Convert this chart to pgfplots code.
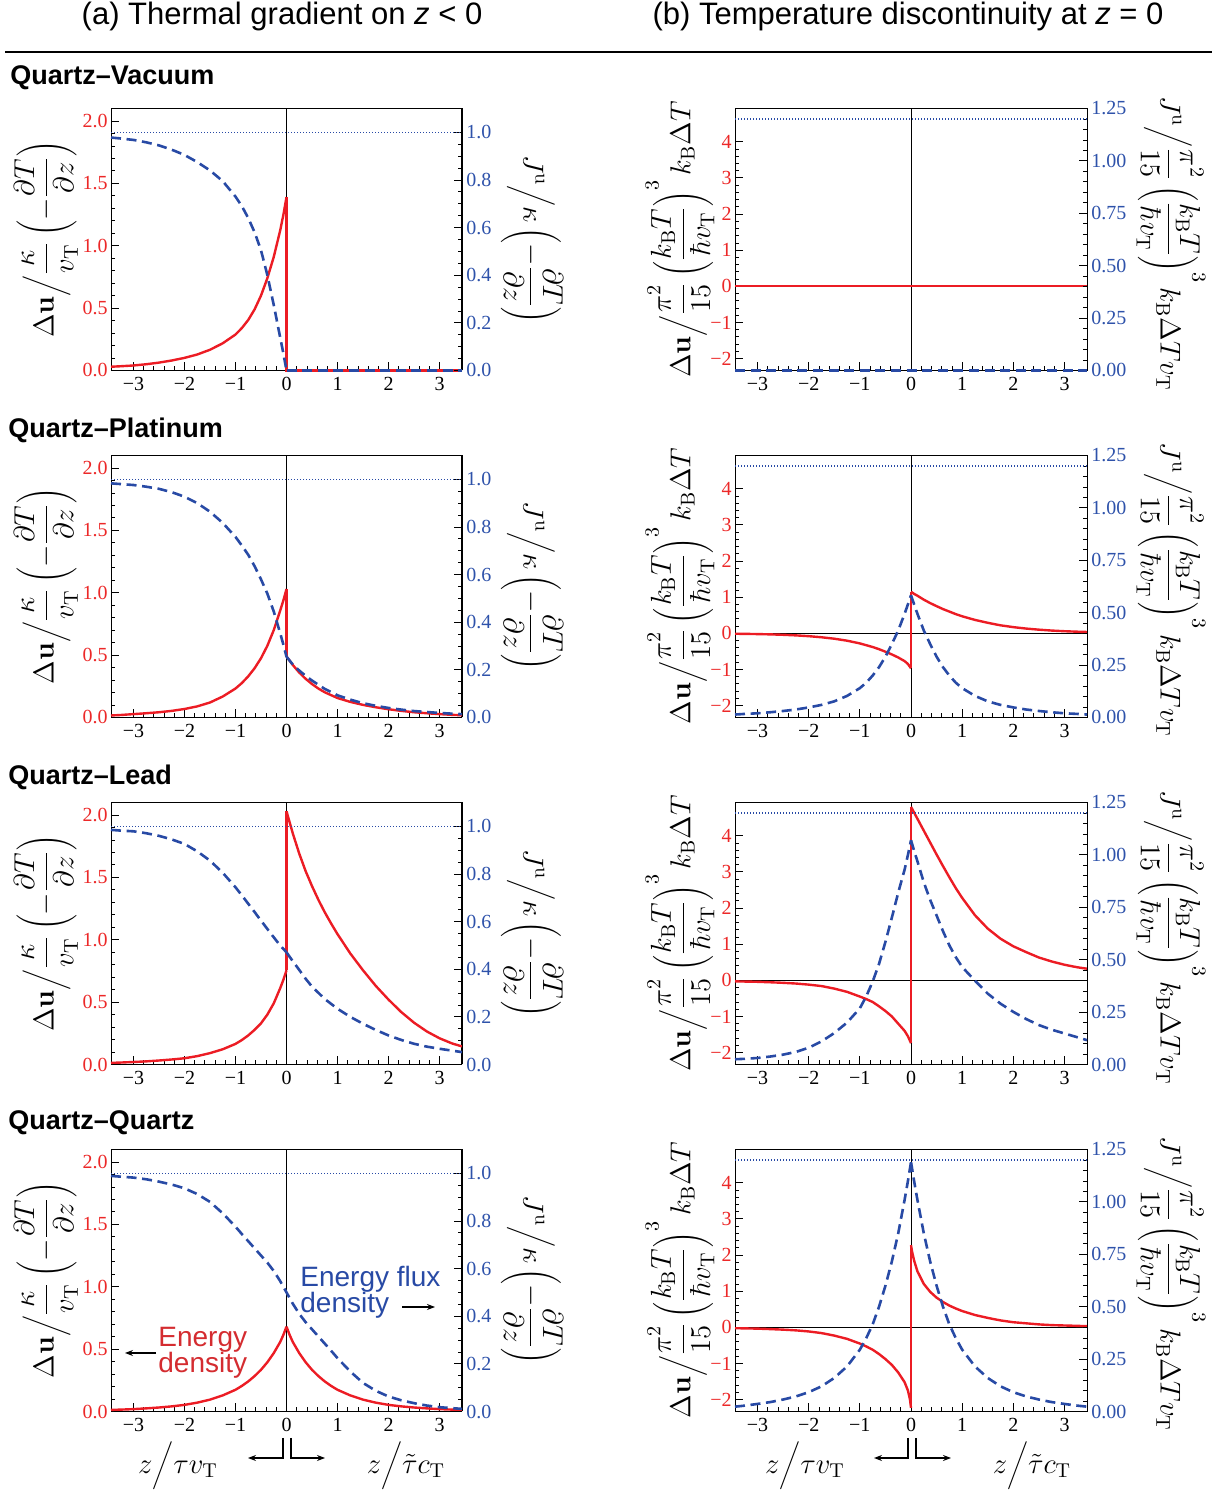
\documentclass[border=0pt]{standalone}
\usepackage[no-math]{fontspec}
\setmainfont{Liberation Serif}
\newfontfamily\hv{Liberation Sans}
\usepackage{pgfplots}
\pgfplotsset{compat=1.18}
\usetikzlibrary{arrows.meta}

\definecolor{cred}{RGB}{236,28,36}
\definecolor{cblue}{RGB}{40,74,165}
\definecolor{tred}{RGB}{236,40,40}
\definecolor{tblue}{RGB}{46,82,170}
\definecolor{ared}{RGB}{212,44,48}

% axis titles
\newcommand{\ulabL}{$\displaystyle \Delta\mathbf{u}\bigg/\frac{\kappa}{v_{\mathrm{T}}}\left(-\frac{\partial T}{\partial z}\right)$}
\newcommand{\jlabL}{$\displaystyle J^{\mathrm{u}}\bigg/\kappa\left(-\frac{\partial T}{\partial z}\right)$}
\newcommand{\ulabR}{$\displaystyle \Delta\mathbf{u}\bigg/\frac{\pi^2}{15}\left(\frac{k_{\mathrm{B}}T}{\hbar v_{\mathrm{T}}}\right)^{3} k_{\mathrm{B}}\Delta T$}
\newcommand{\jlabR}{$\displaystyle J^{\mathrm{u}}\bigg/\frac{\pi^2}{15}\left(\frac{k_{\mathrm{B}}T}{\hbar v_{\mathrm{T}}}\right)^{3} k_{\mathrm{B}}\Delta T v_{\mathrm{T}}$}
\newcommand{\lblfont}{\fontsize{14.4}{17}\selectfont}

\pgfplotsset{
  panel/.style={scale only axis, height=131pt, xmin=-3.44, xmax=3.44,
    anchor=south west, clip=false, tick align=inside,
    major tick length=4pt, minor tick length=2pt,
    every tick/.style={black, line width=0.4pt},
    tick label style={font=\fontsize{10}{12}\selectfont},
    axis line style={black, line width=0.5pt}},
  redax/.style={panel, xtick={-3,...,3}, xticklabels={−3,−2,−1,0,1,2,3},
    minor x tick num=4, xtick pos=left, ytick pos=left,
    yticklabel style={text=tred, inner sep=1.5pt}},
  blueax/.style={panel, hide x axis, axis y line*=right, ytick pos=right,
    yticklabel style={text=tblue, inner sep=2pt}},
  Lr/.style={redax, width=175.5pt, ymin=0, ymax=2.1, ytick={0,0.5,1,1.5,2},
    yticklabels={0.0,0.5,1.0,1.5,2.0}, minor y tick num=4},
  Lb/.style={blueax, width=175.5pt, ymin=0, ymax=1.1, ytick={0,0.2,0.4,0.6,0.8,1},
    yticklabels={0.0,0.2,0.4,0.6,0.8,1.0}, minor y tick num=3},
  Rr/.style={redax, width=176pt, ymin=-2.33, ymax=4.92, ytick={-2,...,4},
    yticklabels={−2,−1,0,1,2,3,4}, minor y tick num=4},
  Rb/.style={blueax, width=176pt, ymin=0, ymax=1.25, ytick={0,0.25,0.5,0.75,1,1.25},
    yticklabels={0.00,0.25,0.50,0.75,1.00,1.25}, minor y tick num=4},
  rc/.style={cred, line width=1.2pt, line join=round},
  rj/.style={cred, line width=1.2pt},
  bc/.style={cblue, line width=1.3pt, dash pattern=on 5pt off 2.8pt, line join=round},
  bd/.style={cblue, line width=0.6pt, dash pattern=on 0.5pt off 1pt},
}

\begin{document}
\begin{tikzpicture}
\useasboundingbox (0,0) rectangle (610pt,746pt);

\node[font=\hv\fontsize{15.5}{18}\selectfont] at (141pt,737.5pt) {(a) Thermal gradient on \textit{z} < 0};
\node[font=\hv\fontsize{15.5}{18}\selectfont] at (454pt,737.5pt) {(b) Temperature discontinuity at \textit{z} = 0};
\draw[line width=1pt] (2.5pt,720pt) -- (606pt,720pt);

\node[font=\hv\bfseries\fontsize{13.5}{16}\selectfont, anchor=west, inner sep=0pt] at (5pt,707pt) {Quartz–Vacuum};
\node[font=\hv\bfseries\fontsize{13.5}{16}\selectfont, anchor=west, inner sep=0pt] at (4pt,531pt) {Quartz–Platinum};
\node[font=\hv\bfseries\fontsize{13.5}{16}\selectfont, anchor=west, inner sep=0pt] at (4pt,357.5pt) {Quartz–Lead};
\node[font=\hv\bfseries\fontsize{13.5}{16}\selectfont, anchor=west, inner sep=0pt] at (4pt,184.5pt) {Quartz–Quartz};

% ===== Row 1: Quartz-Vacuum =====
\begin{axis}[Lr, at={(55.5pt,560.75pt)}]
\draw[black, line width=0.5pt] (axis cs:0,0) -- (axis cs:0,2.1);
\addplot[rc] coordinates {(-3.44,0.030) (-3.25,0.034) (-3,0.040) (-2.75,0.050) (-2.5,0.063) (-2.25,0.08) (-2,0.101) (-1.75,0.128) (-1.5,0.166) (-1.25,0.218) (-1,0.288) (-0.875,0.34) (-0.75,0.405) (-0.625,0.49) (-0.5,0.60) (-0.375,0.74) (-0.25,0.91) (-0.125,1.12) (-0.06,1.25) (0,1.39)};
\addplot[rj] coordinates {(0,1.39) (0,0) (3.44,0)};
\end{axis}
\begin{axis}[Lb, at={(55.5pt,560.75pt)}]
\addplot[bd] coordinates {(-3.44,1) (3.44,1)};
\addplot[bc] coordinates {(-3.44,0.978) (-3.25,0.974) (-3,0.968) (-2.75,0.958) (-2.5,0.945) (-2.25,0.927) (-2,0.905) (-1.75,0.875) (-1.5,0.84) (-1.25,0.795) (-1,0.73) (-0.875,0.69) (-0.75,0.64) (-0.625,0.58) (-0.5,0.505) (-0.375,0.40) (-0.25,0.275) (-0.125,0.14) (-0.06,0.07) (0,0)};
\addplot[bc] coordinates {(0,0) (3.44,0)};
\end{axis}

\begin{axis}[Rr, at={(367.5pt,560.75pt)}]
\draw[black, line width=0.5pt] (axis cs:0,-2.33) -- (axis cs:0,4.92);
\addplot[rj] coordinates {(-3.44,0) (3.44,0)};
\end{axis}
\begin{axis}[Rb, at={(367.5pt,560.75pt)}]
\addplot[bd] coordinates {(-3.44,1.2) (3.44,1.2)};
\addplot[bc] coordinates {(-3.44,0) (3.44,0)};
\end{axis}

% ===== Row 2: Quartz-Platinum =====
\begin{axis}[Lr, at={(55.5pt,387.25pt)}]
\draw[black, line width=0.5pt] (axis cs:0,0) -- (axis cs:0,2.1);
\addplot[rc] coordinates {(-3.44,0.016) (-3.25,0.02) (-3,0.027) (-2.75,0.034) (-2.5,0.042) (-2.25,0.053) (-2,0.068) (-1.75,0.089) (-1.5,0.12) (-1.25,0.168) (-1,0.232) (-0.875,0.276) (-0.75,0.33) (-0.625,0.395) (-0.5,0.475) (-0.375,0.575) (-0.25,0.70) (-0.125,0.855) (-0.06,0.94) (0,1.03)};
\addplot[rj] coordinates {(0,1.03) (0,0.49)};
\addplot[rc] coordinates {(0,0.49) (0.125,0.42) (0.25,0.36) (0.375,0.31) (0.5,0.268) (0.625,0.232) (0.75,0.202) (1,0.156) (1.25,0.125) (1.5,0.101) (1.75,0.082) (2,0.066) (2.25,0.053) (2.5,0.042) (2.75,0.034) (3,0.027) (3.25,0.021) (3.44,0.018)};
\end{axis}
\begin{axis}[Lb, at={(55.5pt,387.25pt)}]
\addplot[bd] coordinates {(-3.44,1) (3.44,1)};
\addplot[bc] coordinates {(-3.44,0.983) (-3.25,0.980) (-3,0.976) (-2.75,0.969) (-2.5,0.96) (-2.25,0.946) (-2,0.927) (-1.75,0.90) (-1.5,0.864) (-1.25,0.817) (-1,0.758) (-0.875,0.722) (-0.75,0.683) (-0.625,0.635) (-0.5,0.58) (-0.375,0.52) (-0.25,0.445) (-0.125,0.355) (-0.06,0.305) (0,0.255)};
\addplot[bc] coordinates {(0,0.255) (0.125,0.222) (0.25,0.197) (0.375,0.175) (0.5,0.155) (0.75,0.12) (1,0.093) (1.25,0.075) (1.5,0.06) (1.75,0.049) (2,0.04) (2.25,0.033) (2.5,0.027) (2.75,0.023) (3,0.019) (3.25,0.016) (3.44,0.014)};
\end{axis}

\begin{axis}[Rr, at={(367.5pt,387.25pt)}]
\draw[black, line width=0.5pt] (axis cs:0,-2.33) -- (axis cs:0,4.92);
\draw[black, line width=0.5pt] (axis cs:-3.44,0) -- (axis cs:3.44,0);
\addplot[rc] coordinates {(-3.44,-0.013) (-3.25,-0.016) (-3,-0.022) (-2.75,-0.03) (-2.5,-0.042) (-2.25,-0.058) (-2,-0.08) (-1.75,-0.11) (-1.5,-0.15) (-1.25,-0.205) (-1,-0.28) (-0.875,-0.33) (-0.75,-0.38) (-0.625,-0.44) (-0.5,-0.51) (-0.375,-0.585) (-0.25,-0.67) (-0.125,-0.77) (-0.06,-0.85) (0,-0.97)};
\addplot[rj] coordinates {(0,-0.97) (0,1.15)};
\addplot[rc] coordinates {(0,1.15) (0.06,1.09) (0.125,1.04) (0.25,0.93) (0.375,0.835) (0.5,0.75) (0.625,0.67) (0.75,0.6) (0.875,0.53) (1,0.47) (1.25,0.37) (1.5,0.29) (1.75,0.22) (2,0.17) (2.25,0.13) (2.5,0.10) (2.75,0.075) (3,0.057) (3.25,0.044) (3.44,0.036)};
\end{axis}
\begin{axis}[Rb, at={(367.5pt,387.25pt)}]
\addplot[bd] coordinates {(-3.44,1.2) (3.44,1.2)};
\addplot[bc] coordinates {(-3.44,0.014) (-3.25,0.017) (-3,0.02) (-2.75,0.025) (-2.5,0.031) (-2.25,0.038) (-2,0.048) (-1.75,0.06) (-1.5,0.077) (-1.25,0.103) (-1,0.14) (-0.875,0.166) (-0.75,0.2) (-0.625,0.24) (-0.5,0.29) (-0.375,0.35) (-0.25,0.415) (-0.125,0.495) (-0.06,0.54) (0,0.583)};
\addplot[bc] coordinates {(0,0.583) (0.06,0.54) (0.125,0.495) (0.25,0.415) (0.375,0.35) (0.5,0.29) (0.625,0.24) (0.75,0.2) (0.875,0.166) (1,0.14) (1.25,0.103) (1.5,0.077) (1.75,0.06) (2,0.048) (2.25,0.038) (2.5,0.031) (2.75,0.025) (3,0.02) (3.25,0.017) (3.44,0.014)};
\end{axis}

% ===== Row 3: Quartz-Lead =====
\begin{axis}[Lr, at={(55.5pt,213.75pt)}]
\draw[black, line width=0.5pt] (axis cs:0,0) -- (axis cs:0,2.1);
\addplot[rc] coordinates {(-3.44,0.013) (-3.25,0.0156) (-3,0.02) (-2.75,0.025) (-2.5,0.032) (-2.25,0.04) (-2,0.05) (-1.75,0.067) (-1.5,0.091) (-1.25,0.122) (-1,0.165) (-0.875,0.196) (-0.75,0.233) (-0.625,0.278) (-0.5,0.33) (-0.375,0.40) (-0.25,0.49) (-0.125,0.61) (-0.06,0.68) (0,0.755)};
\addplot[rj] coordinates {(0,0.755) (0,2.03)};
\addplot[rc] coordinates {(0,2.03) (0.125,1.85) (0.25,1.69) (0.375,1.55) (0.5,1.43) (0.625,1.32) (0.75,1.22) (0.875,1.13) (1,1.045) (1.25,0.89) (1.5,0.755) (1.75,0.63) (2,0.52) (2.25,0.42) (2.5,0.335) (2.75,0.265) (3,0.21) (3.25,0.168) (3.44,0.145)};
\end{axis}
\begin{axis}[Lb, at={(55.5pt,213.75pt)}]
\addplot[bd] coordinates {(-3.44,1) (3.44,1)};
\addplot[bc] coordinates {(-3.44,0.985) (-3.25,0.982) (-3,0.979) (-2.75,0.971) (-2.5,0.96) (-2.25,0.945) (-2,0.926) (-1.75,0.895) (-1.5,0.856) (-1.25,0.805) (-1,0.744) (-0.875,0.71) (-0.75,0.675) (-0.625,0.64) (-0.5,0.604) (-0.375,0.569) (-0.25,0.534) (-0.125,0.50) (0,0.471)};
\addplot[bc] coordinates {(0,0.471) (0.125,0.433) (0.25,0.397) (0.375,0.36) (0.5,0.327) (0.75,0.275) (1,0.234) (1.25,0.2) (1.5,0.171) (1.75,0.145) (2,0.122) (2.25,0.103) (2.5,0.087) (2.75,0.075) (3,0.066) (3.25,0.058) (3.44,0.052)};
\end{axis}

\begin{axis}[Rr, at={(367.5pt,213.75pt)}]
\draw[black, line width=0.5pt] (axis cs:0,-2.33) -- (axis cs:0,4.92);
\draw[black, line width=0.5pt] (axis cs:-3.44,0) -- (axis cs:3.44,0);
\addplot[rc] coordinates {(-3.44,-0.03) (-3.25,-0.035) (-3,-0.042) (-2.75,-0.055) (-2.5,-0.07) (-2.25,-0.09) (-2,-0.12) (-1.75,-0.16) (-1.5,-0.23) (-1.25,-0.32) (-1,-0.45) (-0.875,-0.52) (-0.75,-0.6) (-0.625,-0.72) (-0.5,-0.85) (-0.375,-1.0) (-0.25,-1.2) (-0.125,-1.4) (-0.06,-1.55) (0,-1.74)};
\addplot[rj] coordinates {(0,-1.74) (0,4.8)};
\addplot[rc] coordinates {(0,4.8) (0.125,4.47) (0.25,4.14) (0.375,3.81) (0.5,3.48) (0.625,3.16) (0.75,2.85) (0.875,2.55) (1,2.28) (1.25,1.8) (1.5,1.43) (1.75,1.15) (2,0.94) (2.25,0.78) (2.5,0.63) (2.75,0.52) (3,0.43) (3.25,0.36) (3.44,0.32)};
\end{axis}
\begin{axis}[Rb, at={(367.5pt,213.75pt)}]
\addplot[bd] coordinates {(-3.44,1.2) (3.44,1.2)};
\addplot[bc] coordinates {(-3.44,0.025) (-3.25,0.027) (-3,0.031) (-2.75,0.038) (-2.5,0.047) (-2.25,0.06) (-2,0.08) (-1.75,0.11) (-1.5,0.15) (-1.25,0.2) (-1,0.268) (-0.875,0.325) (-0.75,0.395) (-0.625,0.48) (-0.5,0.585) (-0.375,0.70) (-0.25,0.82) (-0.125,0.93) (-0.06,1.0) (0,1.07)};
\addplot[bc] coordinates {(0,1.07) (0.06,1.02) (0.125,0.97) (0.25,0.869) (0.375,0.785) (0.5,0.711) (0.625,0.636) (0.75,0.568) (0.875,0.512) (1,0.465) (1.25,0.40) (1.5,0.338) (1.75,0.29) (2,0.251) (2.25,0.217) (2.5,0.188) (2.75,0.166) (3,0.148) (3.25,0.13) (3.44,0.116)};
\end{axis}

% ===== Row 4: Quartz-Quartz =====
\begin{axis}[Lr, at={(55.5pt,40.25pt)}]
\draw[black, line width=0.5pt] (axis cs:0,0) -- (axis cs:0,2.1);
\addplot[rc] coordinates {(-3.44,0.013) (-3.25,0.015) (-3,0.019) (-2.75,0.025) (-2.5,0.032) (-2.25,0.041) (-2,0.053) (-1.75,0.071) (-1.5,0.095) (-1.25,0.129) (-1,0.174) (-0.875,0.205) (-0.75,0.241) (-0.625,0.284) (-0.5,0.334) (-0.375,0.395) (-0.25,0.468) (-0.125,0.556) (-0.06,0.615) (0,0.68)};
\addplot[rc] coordinates {(0,0.68) (0.06,0.615) (0.125,0.556) (0.25,0.468) (0.375,0.395) (0.5,0.334) (0.625,0.284) (0.75,0.241) (0.875,0.205) (1,0.174) (1.25,0.129) (1.5,0.095) (1.75,0.071) (2,0.053) (2.25,0.041) (2.5,0.032) (2.75,0.025) (3,0.019) (3.25,0.015) (3.44,0.013)};
\end{axis}
\begin{axis}[Lb, at={(55.5pt,40.25pt)}]
\addplot[bd] coordinates {(-3.44,1) (3.44,1)};
\addplot[bc] coordinates {(-3.44,0.989) (-3.25,0.986) (-3,0.982) (-2.75,0.975) (-2.5,0.965) (-2.25,0.953) (-2,0.937) (-1.75,0.913) (-1.5,0.88) (-1.25,0.832) (-1,0.776) (-0.875,0.745) (-0.75,0.715) (-0.625,0.685) (-0.5,0.655) (-0.375,0.625) (-0.25,0.59) (-0.125,0.548) (0,0.5) (0.125,0.452) (0.25,0.41) (0.375,0.375) (0.5,0.345) (0.625,0.315) (0.75,0.285) (0.875,0.255) (1,0.224) (1.25,0.168) (1.5,0.12) (1.75,0.087) (2,0.063) (2.25,0.047) (2.5,0.035) (2.75,0.025) (3,0.018) (3.25,0.014) (3.44,0.011)};
\end{axis}

\begin{axis}[Rr, at={(367.5pt,40.25pt)}]
\draw[black, line width=0.5pt] (axis cs:0,-2.33) -- (axis cs:0,4.92);
\draw[black, line width=0.5pt] (axis cs:-3.44,0) -- (axis cs:3.44,0);
\addplot[rc] coordinates {(-3.44,-0.025) (-3.25,-0.03) (-3,-0.037) (-2.75,-0.05) (-2.5,-0.065) (-2.25,-0.085) (-2,-0.115) (-1.75,-0.16) (-1.5,-0.23) (-1.25,-0.32) (-1,-0.45) (-0.875,-0.53) (-0.75,-0.62) (-0.625,-0.74) (-0.5,-0.88) (-0.375,-1.04) (-0.25,-1.25) (-0.125,-1.52) (-0.06,-1.75) (-0.02,-2.0) (0,-2.23)};
\addplot[rj] coordinates {(0,-2.23) (0,2.27)};
\addplot[rc] coordinates {(0,2.27) (0.02,2.1) (0.06,1.85) (0.125,1.55) (0.25,1.2) (0.375,0.98) (0.5,0.82) (0.625,0.7) (0.75,0.6) (0.875,0.52) (1,0.45) (1.25,0.34) (1.5,0.26) (1.75,0.19) (2,0.14) (2.25,0.11) (2.5,0.08) (2.75,0.06) (3,0.05) (3.25,0.04) (3.44,0.03)};
\end{axis}
\begin{axis}[Rb, at={(367.5pt,40.25pt)}]
\addplot[bd] coordinates {(-3.44,1.2) (3.44,1.2)};
\addplot[bc] coordinates {(-3.44,0.023) (-3.25,0.028) (-3,0.036) (-2.75,0.045) (-2.5,0.057) (-2.25,0.072) (-2,0.092) (-1.75,0.12) (-1.5,0.16) (-1.25,0.215) (-1,0.295) (-0.875,0.35) (-0.75,0.415) (-0.625,0.5) (-0.5,0.6) (-0.375,0.715) (-0.25,0.85) (-0.125,1.01) (-0.06,1.1) (0,1.19)};
\addplot[bc] coordinates {(0,1.19) (0.06,1.1) (0.125,1.01) (0.25,0.85) (0.375,0.715) (0.5,0.6) (0.625,0.5) (0.75,0.415) (0.875,0.35) (1,0.295) (1.25,0.215) (1.5,0.16) (1.75,0.12) (2,0.092) (2.25,0.072) (2.5,0.057) (2.75,0.045) (3,0.036) (3.25,0.028) (3.44,0.023)};
\end{axis}

% ===== y-axis titles =====
\foreach \yy in {626.25,453,279.25,106} {
  \node[rotate=90, font=\lblfont, inner sep=0pt] at (23pt,\yy pt) {\ulabL};
  \node[rotate=-90, font=\lblfont, inner sep=0pt] at (266pt,\yy pt) {\jlabL};
  \node[rotate=90, font=\lblfont, inner sep=0pt] at (340pt,\yy pt) {\ulabR};
  \node[rotate=-90, font=\lblfont, inner sep=0pt] at (585.5pt,\yy pt-2pt) {\jlabR};
}

% ===== annotations (row 4 left) =====
\node[font=\hv\fontsize{14}{13}\selectfont, text=cblue, anchor=base west, inner sep=0pt] at (150pt,102.5pt) {Energy flux};
\node[font=\hv\fontsize{14}{13}\selectfont, text=cblue, anchor=base west, inner sep=0pt] at (150pt,89.5pt) {density};
\draw[line width=0.6pt, -{Stealth[length=4pt,width=3pt]}] (201pt,92.5pt) -- (217.5pt,92.5pt);
\node[font=\hv\fontsize{14}{13}\selectfont, text=ared, anchor=base west, inner sep=0pt] at (79pt,72.5pt) {Energy};
\node[font=\hv\fontsize{14}{13}\selectfont, text=ared, anchor=base west, inner sep=0pt] at (79pt,59.5pt) {density};
\draw[line width=0.6pt, -{Stealth[length=4pt,width=3pt]}] (78pt,69.5pt) -- (62.5pt,69.5pt);

% ===== x-axis titles =====
\node[font=\lblfont, inner sep=0pt] at (89pt,13pt) {$z\bigg/\tau v_{\mathrm{T}}$};
\node[font=\lblfont, inner sep=0pt] at (203pt,13pt) {$z\bigg/\tilde{\tau} c_{\mathrm{T}}$};
\draw[line width=0.6pt, -{Stealth[length=4pt,width=3pt]}] (141.5pt,27pt) -- (141.5pt,17pt) -- (124pt,17pt);
\draw[line width=0.6pt, -{Stealth[length=4pt,width=3pt]}] (145.5pt,27pt) -- (145.5pt,17pt) -- (162.5pt,17pt);
\node[font=\lblfont, inner sep=0pt] at (402.5pt,13pt) {$z\bigg/\tau v_{\mathrm{T}}$};
\node[font=\lblfont, inner sep=0pt] at (516pt,13pt) {$z\bigg/\tilde{\tau} c_{\mathrm{T}}$};
\draw[line width=0.6pt, -{Stealth[length=4pt,width=3pt]}] (454pt,27pt) -- (454pt,17pt) -- (437pt,17pt);
\draw[line width=0.6pt, -{Stealth[length=4pt,width=3pt]}] (458pt,27pt) -- (458pt,17pt) -- (475.5pt,17pt);
\end{tikzpicture}
\end{document}
